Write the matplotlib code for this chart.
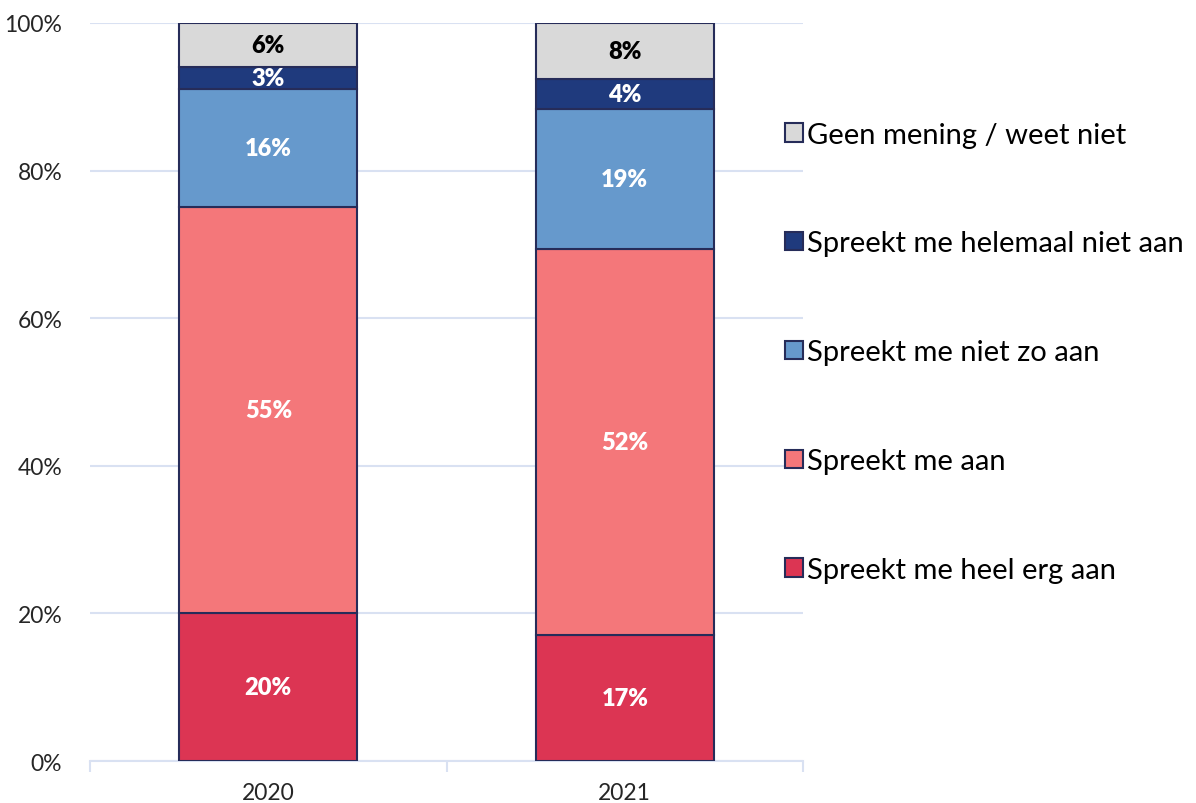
import numpy as np
import matplotlib.pyplot as plt
from matplotlib.ticker import FixedLocator, PercentFormatter

# Data
years = ["2020", "2021"]
categories = [
    "Spreekt me heel erg aan",
    "Spreekt me aan",
    "Spreekt me niet zo aan",
    "Spreekt me helemaal niet aan",
    "Geen mening / weet niet",
]
heel_erg_aan = [20.0, 17.1]
aan = [55.0, 52.3]
niet_zo_aan = [16.0, 18.9]
helemaal_niet_aan = [3.0, 4.1]
geen_mening = [6.0, 7.6]

series = [heel_erg_aan, aan, niet_zo_aan, helemaal_niet_aan, geen_mening]
colors = ["#DC3553", "#F4777A", "#6699CC", "#1F3A7D", "#D9D9D9"]
label_colors = ["white", "white", "white", "white", "black"]

plt.rcParams['font.family'] = ['Lato', 'DejaVu Sans']
grid_color = "#D9E1F2"
edge_color = "#262C59"

fig = plt.figure(figsize=(11.96, 8.04), dpi=100)
ax = fig.add_axes([0.0753, 0.0522, 0.5961, 0.918])

x = np.arange(len(years))
bottom = np.zeros(len(years))
handles = []
for vals, col, lcol, name in zip(series, colors, label_colors, categories):
    bars = ax.bar(x, vals, width=0.5, bottom=bottom, color=col,
                  edgecolor=edge_color, linewidth=1.5, label=name, zorder=3)
    handles.append(bars)
    for xi, b, v in zip(x, bottom, vals):
        ax.text(xi, b + v / 2, f"{round(v):.0f}%", ha='center', va='center',
                color=lcol, fontsize=17, fontweight='heavy', zorder=4)
    bottom += np.array(vals)

ax.set_xlim(-0.5, 1.5)
ax.set_ylim(0, 100)
ax.yaxis.set_major_locator(FixedLocator([0, 20, 40, 60, 80, 100]))
ax.yaxis.set_major_formatter(PercentFormatter(decimals=0))
ax.set_xticks(x)
ax.set_xticklabels(years)
ax.xaxis.set_minor_locator(FixedLocator([-0.5, 0.5, 1.5]))

ax.grid(True, axis='y', color=grid_color, linewidth=1.5, zorder=0)
for s in ['top', 'right', 'left']:
    ax.spines[s].set_visible(False)
ax.spines['bottom'].set_color(grid_color)
ax.spines['bottom'].set_linewidth(1.5)

ax.tick_params(axis='y', length=0, pad=20, labelsize=16.5, labelcolor='#262626')
ax.tick_params(axis='x', which='major', length=0, pad=15, labelsize=16.5, labelcolor='#262626')
ax.tick_params(axis='x', which='minor', length=8, width=1.5, color=grid_color)

# Legend, top category first
fig.legend(handles[::-1], categories[::-1], loc='upper left',
           bbox_to_anchor=(0.647, 0.862), frameon=False, fontsize=21,
           handlelength=0.6, handleheight=0.6, handletextpad=0.15,
           labelspacing=2.84, borderaxespad=0)

fig.savefig("out.png", dpi=100)
